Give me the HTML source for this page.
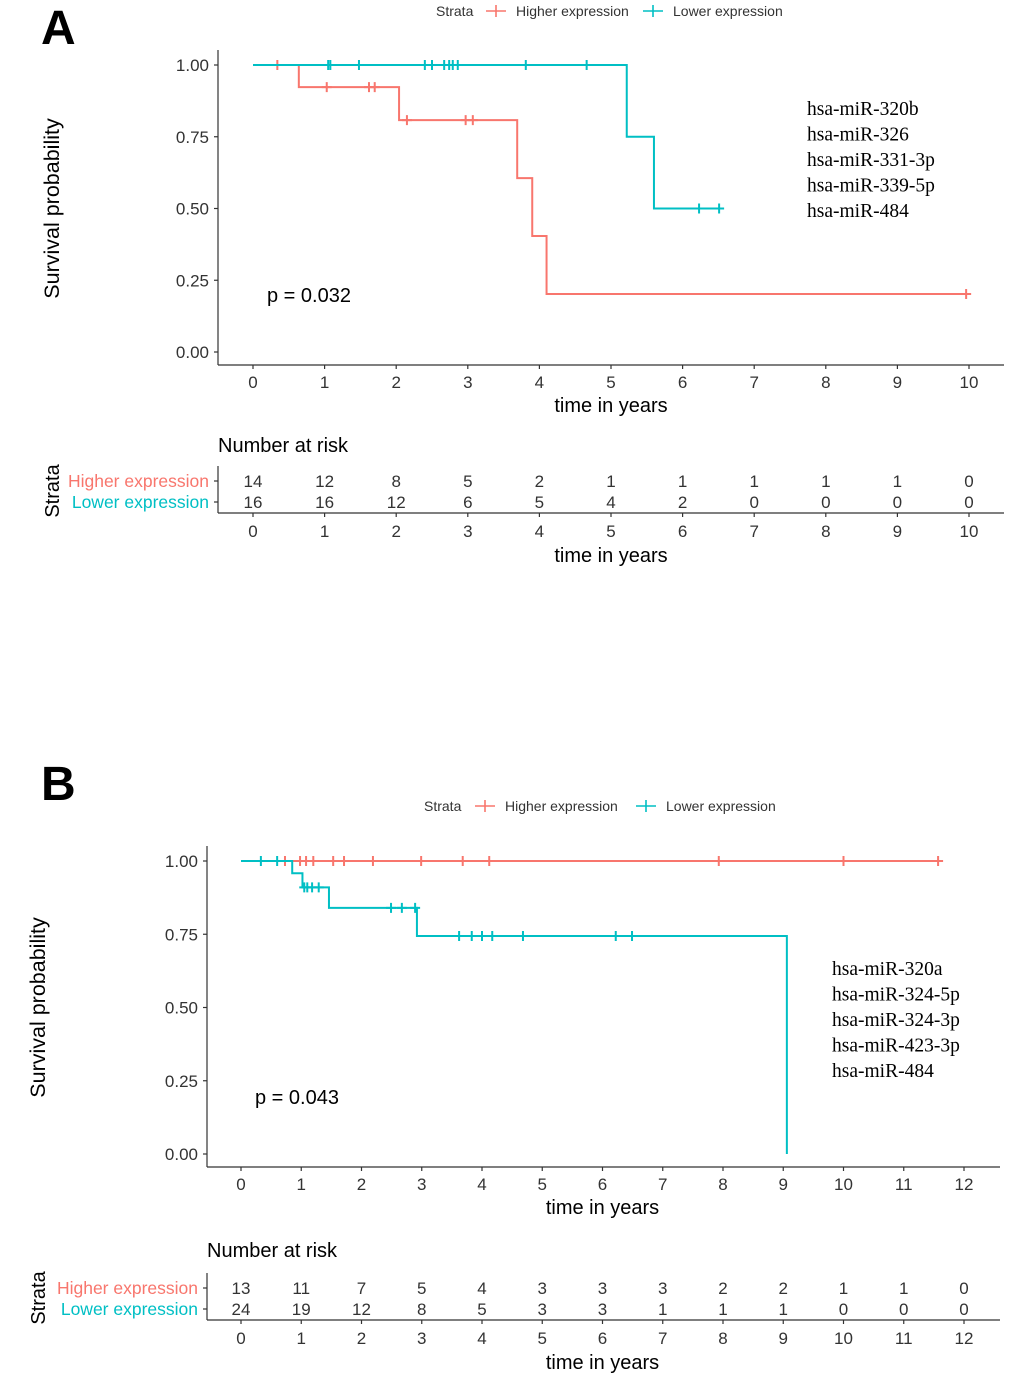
<!DOCTYPE html>
<html><head><meta charset="utf-8">
<style>
html,body{margin:0;padding:0;background:#fff;}
svg{display:block;font-family:"Liberation Sans",sans-serif;}
</style></head>
<body>
<svg id="fig" width="1020" height="1381" viewBox="0 0 1020 1381" xmlns="http://www.w3.org/2000/svg"></svg>
<script>
// ---------- Panel A data ----------
const aXTicks = [0,1,2,3,4,5,6,7,8,9,10];
const aYTicks = [0,0.25,0.5,0.75,1];
const aYTickLabels = ["0.00","0.25","0.50","0.75","1.00"];
const aHighTimes = [0,0.64,2.04,3.69,3.9,4.1,9.96];
const aHighSurv  = [1,0.923,0.808,0.606,0.404,0.202,0.202];
const aHighCens  = [0.34,1.03,1.62,1.7,2.15,2.97,3.07,9.96];
const aLowTimes  = [0,5.22,5.6,6.51];
const aLowSurv   = [1,0.75,0.5,0.5];
const aLowCens   = [1.05,1.08,1.48,2.4,2.5,2.67,2.74,2.79,2.86,3.81,4.66,6.23,6.51];
const aRiskHigh  = [14,12,8,5,2,1,1,1,1,1,0];
const aRiskLow   = [16,16,12,6,5,4,2,0,0,0,0];
const aGenes = ["hsa-miR-320b","hsa-miR-326","hsa-miR-331-3p","hsa-miR-339-5p","hsa-miR-484"];
// ---------- Panel B data ----------
const bXTicks = [0,1,2,3,4,5,6,7,8,9,10,11,12];
const bYTicks = [0,0.25,0.5,0.75,1];
const bYTickLabels = ["0.00","0.25","0.50","0.75","1.00"];
const bHighTimes = [0,11.57];
const bHighSurv  = [1,1];
const bHighCens  = [0.73,0.98,1.08,1.2,1.53,1.71,2.19,2.99,3.68,4.12,7.93,10.0,11.57];
const bLowTimes  = [0,0.85,1.02,1.46,2.92,9.06,9.06];
const bLowSurv   = [1,0.958,0.91,0.84,0.744,0,0];
const bLowCens   = [0.33,0.6,1.05,1.1,1.18,1.29,2.49,2.67,2.89,3.62,3.83,4.0,4.17,4.68,6.22,6.49];
const bRiskHigh  = [13,11,7,5,4,3,3,3,2,2,1,1,0];
const bRiskLow   = [24,19,12,8,5,3,3,1,1,1,0,0,0];
const bGenes = ["hsa-miR-320a","hsa-miR-324-5p","hsa-miR-324-3p","hsa-miR-423-3p","hsa-miR-484"];

const RED="#F8766D", TEAL="#00BFC4";
const NS="http://www.w3.org/2000/svg";
const svg=document.getElementById('fig');
function mk(tag,attrs,parent,text){const e=document.createElementNS(NS,tag);for(const k in attrs)e.setAttribute(k,attrs[k]);if(text!==undefined)e.textContent=text;(parent||svg).appendChild(e);return e;}

function panel(P){
  const g=mk('g',{});
  
  
  const xs=t=>P.x0+t*P.xs, ys=s=>P.y0-s*P.yh;
  const L=mk('text',{x:41,y:P.letterY,'font-size':48,'font-weight':'bold',fill:'#000'},g,P.id);
  
  
  const lg=mk('g',{'font-size':14,fill:'#333'},g);
  
  
  mk('text',{x:P.leg[0],y:P.legY+5},lg,'Strata');
  [[P.leg[1],RED,'Higher expression'],[P.leg[2],TEAL,'Lower expression']].forEach(([lx,c,t])=>{
    const e=mk('g',{},lg);
    
    
    mk('line',{x1:lx,x2:lx+20,y1:P.legY,y2:P.legY,stroke:c,'stroke-width':1.6},e);
    mk('line',{x1:lx+10,x2:lx+10,y1:P.legY-6,y2:P.legY+6,stroke:c,'stroke-width':1.6},e);
    mk('text',{x:lx+30,y:P.legY+5},e,t);
  });
  const ax=mk('g',{stroke:'#333','stroke-width':1.2},g);
  
  
  mk('line',{x1:P.ax,x2:P.ax,y1:P.axTop,y2:P.axB},ax);
  mk('line',{x1:P.ax,x2:P.axR,y1:P.axB,y2:P.axB},ax);
  P.yt.forEach((v,i)=>{
    mk('line',{x1:P.ax-4,x2:P.ax,y1:ys(v),y2:ys(v)},ax);
    const t=mk('text',{x:P.ax-9,y:ys(v)+6,'text-anchor':'end','font-size':17,fill:'#333',stroke:'none'},g,P.ytl[i]);
    
    
  });
  P.xt.forEach(v=>{
    mk('line',{x1:xs(v),x2:xs(v),y1:P.axB,y2:P.axB+4},ax);
    const t=mk('text',{x:xs(v),y:P.axB+23,'text-anchor':'middle','font-size':17,fill:'#333'},g,String(v));
    
    
  });
  const xt=mk('text',{x:xs(P.xt[Math.floor(P.xt.length/2)]),y:P.axB+47,'text-anchor':'middle','font-size':20,fill:'#000'},g,'time in years');
  
  
  const yt=mk('text',{x:0,y:0,'text-anchor':'middle','font-size':21.5,fill:'#000',transform:`translate(${P.ytx},${ys(0.5)}) rotate(-90)`},g,'Survival probability');
  
  
  function curve(times,surv,cens,c,name){
    const cg=mk('g',{},g);
    
    
    let d=`M${xs(times[0])},${ys(surv[0])}`;
    for(let i=1;i<times.length;i++){d+=` H${xs(times[i])} V${ys(surv[i])}`;}
    mk('path',{d:d,fill:'none',stroke:c,'stroke-width':2},cg);
    cens.forEach(t=>{
      let s=surv[0];for(let i=0;i<times.length;i++){if(times[i]<=t)s=surv[i];}
      const m=mk('path',{d:`M${xs(t)-5},${ys(s)} h10 M${xs(t)},${ys(s)-5} v10`,stroke:c,'stroke-width':2},cg);
      
      
    });
  }
  curve(P.ht,P.hs,P.hc,RED,'higher-expression-curve');
  curve(P.lt,P.ls,P.lc,TEAL,'lower-expression-curve');
  const p=mk('text',{x:P.px,y:P.py,'font-size':20,fill:'#000'},g,P.pval);
  
  
  const gl=mk('g',{'font-family':'"Liberation Serif",serif','font-size':19.5,fill:'#000'},g);
  
  
  P.genes.forEach((s,i)=>mk('text',{x:P.gx,y:P.gy+i*25.5},gl,s));
  const rt=mk('g',{},g);
  
  
  mk('text',{x:P.ax,y:P.rTitle,'font-size':20,fill:'#000'},rt,'Number at risk');
  const rb=P.rB;
  mk('line',{x1:P.ax,x2:P.ax,y1:rb-47,y2:rb,stroke:'#333','stroke-width':1.2},rt);
  mk('line',{x1:P.ax,x2:P.axR,y1:rb,y2:rb,stroke:'#333','stroke-width':1.2},rt);
  [[rb-32,RED,'Higher expression',P.rh],[rb-11,TEAL,'Lower expression',P.rl]].forEach(([y,c,lab,arr])=>{
    mk('line',{x1:P.ax-4,x2:P.ax,y1:y,y2:y,stroke:'#333','stroke-width':1.2},rt);
    const l=mk('text',{x:P.ax-9,y:y+6,'text-anchor':'end','font-size':17.5,fill:c},rt,lab);
    
    
    arr.forEach((n,i)=>mk('text',{x:xs(P.xt[i]),y:y+6,'text-anchor':'middle','font-size':17,fill:'#333'},rt,String(n)));
  });
  P.xt.forEach(v=>{
    mk('line',{x1:xs(v),x2:xs(v),y1:rb,y2:rb+4,stroke:'#333','stroke-width':1.2},rt);
    mk('text',{x:xs(v),y:rb+24,'text-anchor':'middle','font-size':17,fill:'#333'},rt,String(v));
  });
  mk('text',{x:xs(P.xt[Math.floor(P.xt.length/2)]),y:rb+49,'text-anchor':'middle','font-size':20,fill:'#000'},rt,'time in years');
  mk('text',{x:0,y:0,'text-anchor':'middle','font-size':20,fill:'#000',transform:`translate(${P.ytx},${rb-22}) rotate(-90)`},rt,'Strata');
}

panel({id:'A',letterY:44,legY:11,leg:[436,486,643],x0:253,xs:71.6,y0:352,yh:287,ax:218,axTop:50,axB:365,axR:1004,
  xt:aXTicks,yt:aYTicks,ytl:aYTickLabels,ytx:59,ht:aHighTimes,hs:aHighSurv,hc:aHighCens,lt:aLowTimes,ls:aLowSurv,lc:aLowCens,
  px:267,py:302,pval:'p = 0.032',genes:aGenes,gx:807,gy:115,rTitle:452,rB:513,rh:aRiskHigh,rl:aRiskLow});
panel({id:'B',letterY:800,legY:806,leg:[424,475,636],x0:241,xs:60.25,y0:1154,yh:293,ax:207,axTop:846,axB:1167,axR:1000,
  xt:bXTicks,yt:bYTicks,ytl:bYTickLabels,ytx:45,ht:bHighTimes,hs:bHighSurv,hc:bHighCens,lt:bLowTimes,ls:bLowSurv,lc:bLowCens,
  px:255,py:1104,pval:'p = 0.043',genes:bGenes,gx:832,gy:975,rTitle:1257,rB:1320,rh:bRiskHigh,rl:bRiskLow});
</script>
</body></html>
